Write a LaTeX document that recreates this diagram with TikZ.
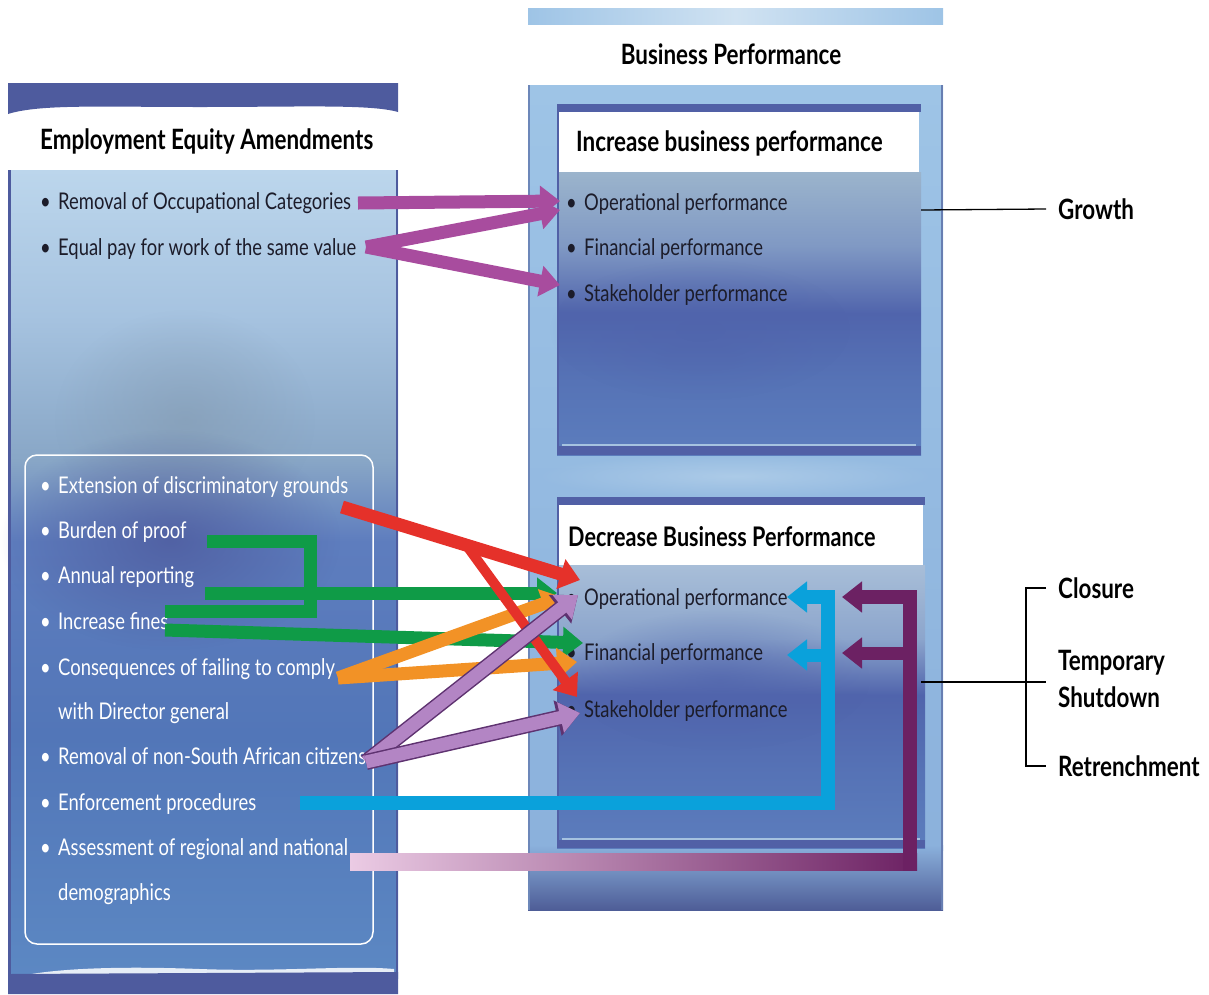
\documentclass[tikz,border=0pt]{standalone}
\usepackage{fontspec}
\setmainfont{Lato}[FakeStretch=0.8]
\usetikzlibrary{arrows.meta,calc,positioning,fadings}

\definecolor{band}{HTML}{4E5B9E}
\definecolor{ink}{HTML}{1C1C2A}
\definecolor{lb0}{HTML}{BCD6EC}
\definecolor{lb1}{HTML}{A6C3E0}
\definecolor{lb2}{HTML}{88A6C6}
\definecolor{lb3}{HTML}{5E7DBE}
\definecolor{lb4}{HTML}{5276B8}
\definecolor{lb5}{HTML}{5C88C3}
\definecolor{haze}{HTML}{8298AE}
\definecolor{bi0}{HTML}{9BB4CC}
\definecolor{bi1}{HTML}{8099C4}
\definecolor{bi2}{HTML}{5064AC}
\definecolor{bi3}{HTML}{5673B6}
\definecolor{bi4}{HTML}{5C7DBD}
\definecolor{bd0}{HTML}{A8BED8}
\definecolor{bd1}{HTML}{8CA5CC}
\definecolor{rp0}{HTML}{9EC4E6}
\definecolor{rp1}{HTML}{8BB1DC}
\definecolor{rp2}{HTML}{A9BCDC}
\definecolor{rp3}{HTML}{4E5D97}
\definecolor{hdr}{HTML}{5160A6}
\definecolor{redA}{HTML}{E5312A}
\definecolor{greenA}{HTML}{0F9B47}
\definecolor{orangeA}{HTML}{F29226}
\definecolor{blueA}{HTML}{0AA1DB}
\definecolor{plumA}{HTML}{6C2163}
\definecolor{pinkA}{HTML}{EBCBE4}
\definecolor{purU}{HTML}{A84C9E}
\definecolor{purL}{HTML}{B385C4}
\definecolor{purD}{HTML}{5E3270}

\pgfdeclareverticalshading{leftbody}{100bp}{color(0bp)=(lb5); color(25bp)=(lb5); color(40bp)=(lb4); color(52bp)=(lb3); color(57bp)=(lb2); color(66bp)=(lb1); color(75bp)=(lb0); color(100bp)=(lb0)}
\pgfdeclareverticalshading{incbody}{100bp}{color(0bp)=(bi4); color(25bp)=(bi4); color(38bp)=(bi3); color(50bp)=(bi2); color(62bp)=(bi1); color(75bp)=(bi0); color(100bp)=(bi0)}
\pgfdeclareverticalshading{decbody}{100bp}{color(0bp)=(bi4); color(25bp)=(bi4); color(38bp)=(bi3); color(52bp)=(bi2); color(62bp)=(bd1); color(75bp)=(bd0); color(100bp)=(bd0)}
\tikzfading[name=softblob, inner color=transparent!0, outer color=transparent!100]

\newcommand{\itemfont}{\fontsize{23}{27}\selectfont}
\newcommand{\headfont}{\bfseries\fontsize{28}{37}\selectfont}
\newcommand{\bul}{\makebox[18pt][l]{\textbullet}}

\tikzset{
  lefttxt/.style={anchor=base west, inner sep=0pt, font=\itemfont, text=ink},
  whitetxt/.style={lefttxt, text=white},
  headtxt/.style={anchor=base west, inner sep=0pt, font=\headfont, text=black},
  outcome/.style={anchor=west, inner sep=0pt, font=\headfont, align=left, text=black},
  fat/.style={line width=13pt, -{Triangle[length=20pt,width=30pt]}},
  fatbar/.style={line width=13pt},
  lilac/.style={fat, purL, preaction={draw=purD, line width=16pt, -{Triangle[length=23pt,width=35pt]}}},
  thinline/.style={line width=1.3pt, black},
  blob/.style={path fading=softblob},
}

\begin{document}
\begin{tikzpicture}[x=1pt,y=-1pt,line join=miter]
\useasboundingbox (0,0) rectangle (1209,994);

% left panel
\shade[shading=leftbody] (8,170) rectangle (398,978);
\fill[haze, blob, opacity=.55] (185,420) ellipse (130 and 110);
\fill[band, blob, opacity=.8] (170,540) ellipse (170 and 110);
\fill[band] (8,83) -- (398,83) -- (398,112) .. controls (370,104) and (300,107) .. (200,107) .. controls (100,107) and (40,104) .. (8,114) -- cycle;
\draw[band, line width=3] (9,170) -- (9,978);
\draw[band, line width=1.5] (397,170) -- (397,978);
\fill[white, opacity=.85] (12,978) .. controls (50,968) and (120,966) .. (200,969) .. controls (280,972) and (350,965) .. (394,969) -- (394,974) -- (12,980) -- cycle;
\fill[band] (8,974) -- (398,972) -- (398,994) -- (8,994) -- cycle;
\draw[white, line width=1.5, rounded corners=12] (25,455) rectangle (373,944);

% right panel
\shade[left color=rp0, right color=rp0, middle color=lb0!70!white] (528,8) rectangle (943,24);
\shade[top color=rp0, bottom color=rp1] (528,85) rectangle (943,850);
\fill[lb0, blob, opacity=.6] (735,476) ellipse (200 and 22);
\shade[top color=rp1, middle color=rp2, bottom color=rp3] (528,845) rectangle (943,910);
\draw[rp3!60!rp1, line width=2] (942,85) -- (942,910);
\draw[rp3!50!rp1, line width=1.5] (529,85) -- (529,910);

% increase box
\fill[hdr] (557,104) rectangle (921,112);
\fill[white] (559,112) rectangle (919,172);
\shade[shading=incbody] (557,172) rectangle (921,455);
\fill[bi2, blob, opacity=.6] (700,330) ellipse (150 and 70);
\fill[hdr] (557,446) rectangle (921,455);
\draw[lb1, line width=1.5] (562,445) -- (916,445);
\draw[hdr, line width=1.2] (558,104) -- (558,455);

% decrease box
\fill[hdr] (557,497) rectangle (925,505);
\fill[white] (559,505) rectangle (923,565);
\shade[shading=decbody] (557,565) rectangle (925,848);
\fill[bi2, blob, opacity=.6] (720,680) ellipse (150 and 70);
\fill[hdr] (557,840) rectangle (925,848);
\draw[lb1, line width=1.5] (562,839) -- (920,839);
\draw[hdr, line width=1.2] (558,497) -- (558,848);

% titles
\node[headtxt] (eea) at (40,149) {Employment Equity Amendments};
\node[headtxt, anchor=base] (bp) at (731,64) {Business Performance};
\node[headtxt] (inc) at (576,151) {Increase business performance};
\node[headtxt, font=\bfseries\fontsize{27}{32}\selectfont] (dec) at (568,546) {Decrease Business Performance};

% left items
\node[lefttxt] (occ) at (40,209) {\bul Removal of Occupational Categories};
\node[lefttxt] (pay) at (40,255) {\bul Equal pay for work of the same value};
\node[whitetxt] (ext) at (40,493) {\bul Extension of discriminatory grounds};
\node[whitetxt] (bur) at (40,538) {\bul Burden of proof};
\node[whitetxt] (ann) at (40,583) {\bul Annual reporting};
\node[whitetxt] (fin) at (40,629) {\bul Increase fines};
\node[whitetxt] (con) at (40,675) {\bul Consequences of failing to comply};
\node[whitetxt] (con2) at (58,719) {with Director general};
\node[whitetxt] (non) at (40,764) {\bul Removal of non-South African citizens};
\node[whitetxt] (enf) at (40,810) {\bul Enforcement procedures};
\node[whitetxt] (asm) at (40,855) {\bul Assessment of regional and national};
\node[whitetxt] (asm2) at (58,900) {demographics};

% right items
\node[lefttxt] (iop) at (566,210) {\bul Operational performance};
\node[lefttxt] (ifp) at (566,255) {\bul Financial performance};
\node[lefttxt] (isp) at (566,301) {\bul Stakeholder performance};
\node[lefttxt] (dop) at (566,605) {\bul Operational performance};
\node[lefttxt] (dfp) at (566,660) {\bul Financial performance};
\node[lefttxt] (dsp) at (566,717) {\bul Stakeholder performance};

% outcomes
\node[outcome] (grow) at (1058,209) {Growth};
\node[outcome] (clo) at (1058,588) {Closure};
\node[outcome] (tmp) at (1058,679) {Temporary\\Shutdown};
\node[outcome] (ret) at (1058,766) {Retrenchment};

\coordinate (incR) at (921,210);
\coordinate (decR) at (921,682);
\draw[thinline] (incR) -- ([xshift=-12pt]grow.west);
\draw[thinline] (decR) -- ([xshift=-12pt]tmp.west |- decR);
\draw[thinline] ([xshift=-12pt]clo.west) -- ++(-20,0) coordinate (brk) -- (brk |- ret.west) -- ([xshift=-12pt]ret.west);

% arrow starts
\coordinate (s-occ) at (358,203);
\coordinate (s-pay) at (366,247);
\coordinate (s-ext) at (342,507);
\coordinate (s-red) at (467,546);
\coordinate (s-bur) at (207,541);
\coordinate (s-ann) at (205,593);
\coordinate (s-fin1) at (165,611);
\coordinate (s-fin2) at (165,630);
\coordinate (s-con) at (338,678);
\coordinate (s-non) at (366,762);
\coordinate (s-enf) at (300,803);
\coordinate (s-asm) at (350,862);
\coordinate (bc) at (828,803);
\coordinate (pc) at (910,862);

% upper arrows
\draw[fat, purU] (s-occ) -- ($(iop.base west)+(-6,-9)$);
\draw[fat, purU] (s-pay) -- ($(iop.base west)+(-6,0)$);
\draw[fat, purU] (s-pay) -- ($(isp.base west)+(-6,-16)$);

% lower arrows
\draw[fatbar, greenA] (s-bur) -| (310,611) -- (s-fin1);
\draw[fat, greenA] (s-ann) -- ($(dop.base west)+(-9,-12)$);
\draw[fat, greenA] (s-fin2) -- ($(dfp.base west)+(17,-17)$);
\draw[fat, orangeA] (s-con) -- ($(dop.base west)+(-4,-8)$);
\draw[fat, orangeA] (s-con) -- ($(dfp.base west)+(11,2)$);
\draw[fat, redA] (s-ext) -- ($(dop.base west)+(14,-25)$);
\draw[fat, redA, line width=10pt] (s-red) -- ($(dsp.base west)+(11,-20)$);
\draw[lilac] (s-non) -- ($(dop.base west)+(12,-10)$);
\draw[lilac] (s-non) -- ($(dsp.base west)+(14,-4)$);

\draw[fat, blueA, line width=14pt] (s-enf) -- (bc) -- ([yshift=8pt]bc |- dop.base west) -- ($(dop.base west)+(221,-8)$);
\draw[fat, blueA] ([yshift=5pt]bc |- dfp.base west) -- ($(dfp.base west)+(221,-5)$);

\shade[left color=pinkA, right color=plumA] ([yshift=8.5pt]s-asm) rectangle ([xshift=7pt,yshift=-8.5pt]pc);
\draw[fat, plumA, line width=14pt] ([yshift=-8.5pt]pc) -- ([yshift=8pt]pc |- dop.base west) -- ($(dop.base west)+(276,-8)$);
\draw[fat, plumA] ([yshift=7pt]pc |- dfp.base west) -- ($(dfp.base west)+(276,-7)$);
\end{tikzpicture}
\end{document}
